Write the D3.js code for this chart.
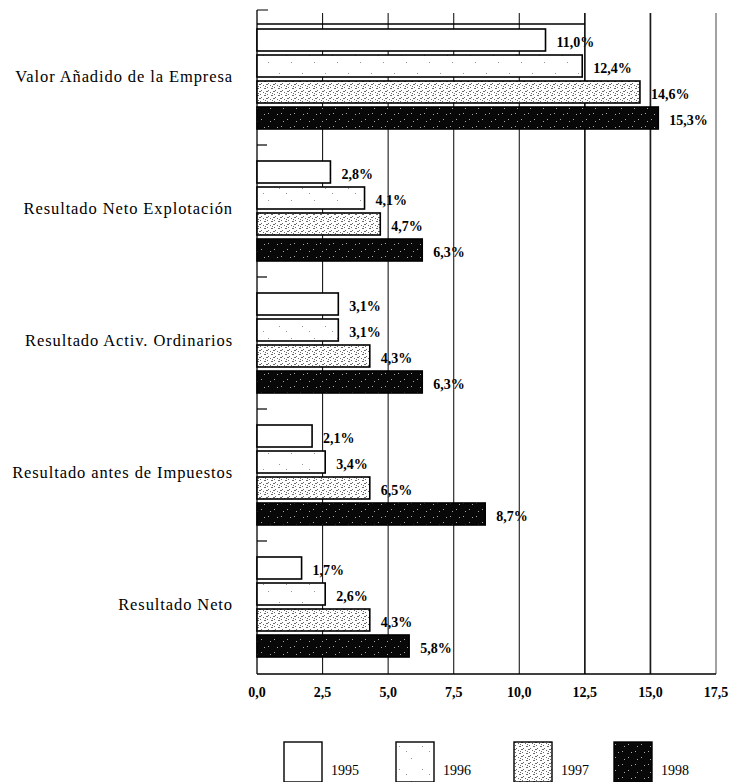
<!DOCTYPE html>
<html>
<head>
<meta charset="utf-8">
<script src="https://cdn.jsdelivr.net/npm/d3@7"></script>
<style>
  body { margin: 0; background: #fff; }
  text { font-family: "Liberation Serif", "DejaVu Serif", serif; fill: #000; }
</style>
</head>
<body>
<script>
// chart data
const categories = [
  "Valor Añadido de la Empresa",
  "Resultado Neto Explotación",
  "Resultado Activ. Ordinarios",
  "Resultado antes de Impuestos",
  "Resultado Neto"
];
const years = ["1995", "1996", "1997", "1998"];
// bar lengths as drawn in the picture
const v1995 = [11.0, 2.8, 3.1, 2.1, 1.7];
const v1996 = [12.4, 4.1, 3.1, 2.6, 2.6];
const v1997 = [14.6, 4.7, 4.3, 4.3, 4.3];
const v1998 = [15.3, 6.3, 6.3, 8.7, 5.8];
// labels as printed (some disagree with the bars in the original)
const l1995 = ["11,0%", "2,8%", "3,1%", "2,1%", "1,7%"];
const l1996 = ["12,4%", "4,1%", "3,1%", "3,4%", "2,6%"];
const l1997 = ["14,6%", "4,7%", "4,3%", "6,5%", "4,3%"];
const l1998 = ["15,3%", "6,3%", "6,3%", "8,7%", "5,8%"];
const xTicks = [0, 2.5, 5, 7.5, 10, 12.5, 15, 17.5];

const series = [v1995, v1996, v1997, v1998];
const labels = [l1995, l1996, l1997, l1998];
const rows = [];
categories.forEach((c, i) => {
  years.forEach((y, j) => rows.push({cat: c, year: y, value: series[j][i], label: labels[j][i]}));
});

const W = 729, H = 782;
const svg = d3.select("body").append("svg").attr("width", W).attr("height", H);

const x = d3.scaleLinear().domain([0, 17.5]).range([257, 716]);
const y = d3.scaleBand().domain(categories).range([13, 673]);
const yInner = d3.scaleBand().domain(years).range([16, 116]).paddingInner(0.154);

const fmt = v => d3.format(".1f")(v).replace(".", ",");

// fill patterns, one per year
const defs = svg.append("defs");
function dotPattern(id, bg, dot, size, dots) {
  const p = defs.append("pattern").attr("id", id)
    .attr("patternUnits", "userSpaceOnUse").attr("width", size).attr("height", size);
  p.append("rect").attr("width", size).attr("height", size).attr("fill", bg);
  dots.forEach(d => p.append("rect").attr("x", d[0]).attr("y", d[1])
    .attr("width", d[2] || 1).attr("height", 1).attr("fill", dot));
}
dotPattern("p1996", "#fff", "#999", 23, [[3, 4], [15, 16], [10, 9]]);
dotPattern("p1997", "#fff", "#6a6a6a", 7, [[0, 0, 2], [4, 1], [1, 3], [5, 4, 2], [2, 6], [6, 2]]);
dotPattern("p1998", "#080808", "#aaa", 13, [[1, 2], [8, 9], [4, 10], [10, 4]]);
const fills = {"1995": "#fff", "1996": "url(#p1996)", "1997": "url(#p1997)", "1998": "url(#p1998)"};

const g = svg.append("g");

// category labels
g.append("g").selectAll("text").data(categories).join("text")
  .attr("x", 233)
  .attr("y", d => y(d) + y.bandwidth() / 2 + 3)
  .attr("text-anchor", "end")
  .attr("font-size", 16.5)
  .style("letter-spacing", "0.9px")
  .text(d => d);

// value labels (under grid lines like the original)
g.append("g").selectAll("text").data(rows).join("text")
  .attr("x", d => x(d.value) + 11)
  .attr("y", d => y(d.cat) + yInner(d.year) + yInner.bandwidth() / 2 + 7)
  .attr("font-size", 14)
  .attr("font-weight", "bold")
  .text(d => d.label);

// grid lines
g.append("g").selectAll("line").data(xTicks.slice(1)).join("line")
  .attr("x1", d => x(d)).attr("x2", d => x(d))
  .attr("y1", 13).attr("y2", 674)
  .attr("stroke", d => d === 17.5 ? "#555" : "#1a1a1a")
  .attr("stroke-width", d => (d === 12.5 || d === 15) ? 1.7 : 1.1);

// frame
g.append("line").attr("x1", x(0)).attr("x2", x(17.5)).attr("y1", 674).attr("y2", 674)
  .attr("stroke", "#000").attr("stroke-width", 1.3);
g.append("line").attr("x1", x(0)).attr("x2", x(12.5)).attr("y1", 24).attr("y2", 24)
  .attr("stroke", "#000").attr("stroke-width", 1.3);
g.append("line").attr("x1", x(0)).attr("x2", x(0)).attr("y1", 10).attr("y2", 674)
  .attr("stroke", "#000").attr("stroke-width", 1.3);
g.append("line").attr("x1", x(0)).attr("x2", x(0) + 11).attr("y1", 10).attr("y2", 10)
  .attr("stroke", "#000").attr("stroke-width", 1);
g.append("g").selectAll("line").data(categories.slice(1)).join("line")
  .attr("x1", x(0)).attr("x2", x(0) + 10)
  .attr("y1", d => y(d)).attr("y2", d => y(d))
  .attr("stroke", "#000").attr("stroke-width", 1.2);

// bars
g.append("g").selectAll("rect").data(rows).join("rect")
  .attr("x", x(0))
  .attr("y", d => y(d.cat) + yInner(d.year))
  .attr("width", d => x(d.value) - x(0))
  .attr("height", yInner.bandwidth())
  .attr("fill", d => fills[d.year])
  .attr("stroke", "#000")
  .attr("stroke-width", 1.6);

// x axis labels
g.append("g").selectAll("text").data(xTicks).join("text")
  .attr("x", d => x(d))
  .attr("y", 697)
  .attr("text-anchor", "middle")
  .attr("font-size", 14)
  .attr("font-weight", "bold")
  .text(d => fmt(d));

// legend
const legendX = [284, 396, 514, 614];
const leg = g.append("g").selectAll("g").data(years).join("g")
  .attr("transform", (d, i) => `translate(${legendX[i]},742)`);
leg.append("rect").attr("width", 38).attr("height", 40)
  .attr("fill", d => fills[d]).attr("stroke", "#000").attr("stroke-width", 1.4);
leg.append("text").attr("x", 47).attr("y", 33).attr("font-size", 14).text(d => d);
</script>
</body>
</html>
